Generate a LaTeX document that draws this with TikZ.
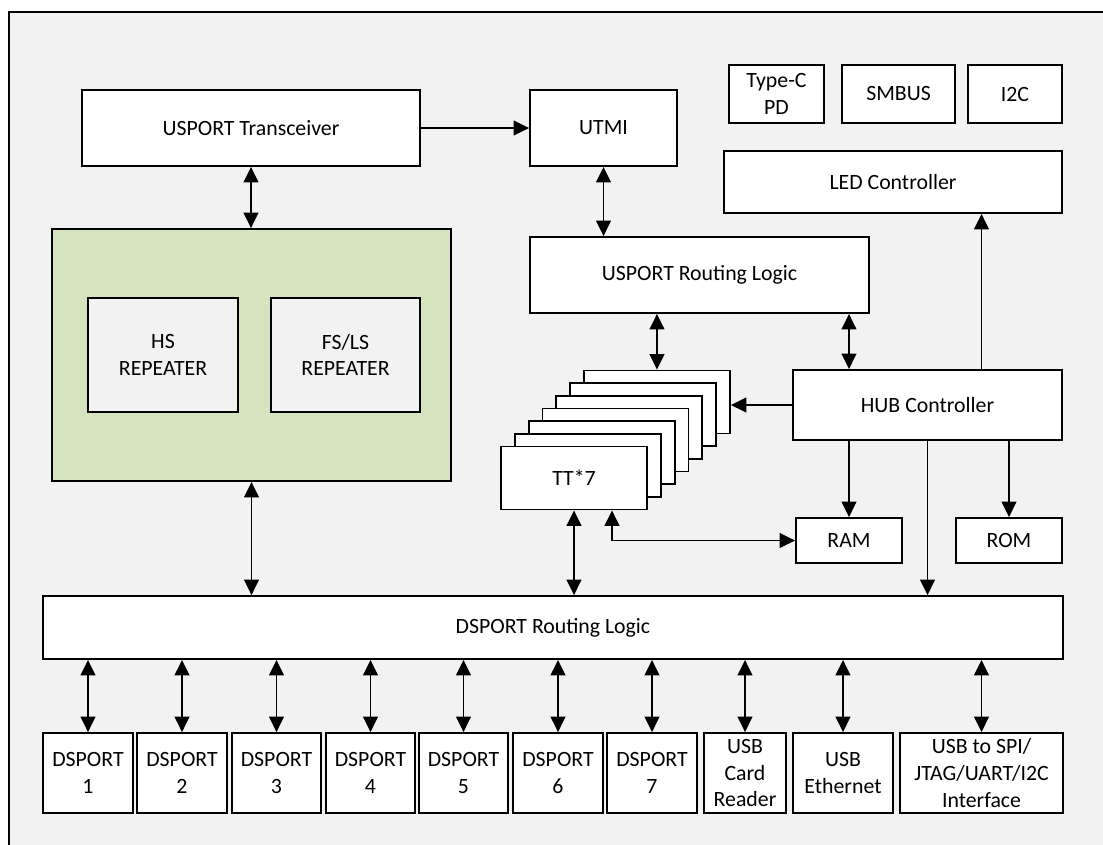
\documentclass[tikz,border=0pt]{standalone}
\usepackage{fontspec}
\setmainfont{Carlito}
\usetikzlibrary{arrows.meta,calc}
\definecolor{bggray}{RGB}{242,242,242}
\definecolor{rptgreen}{RGB}{214,227,191}
\tikzset{sz/.style 2 args={minimum width=#1*0.025cm,minimum height=#2*0.025cm}}
\begin{document}
\begin{tikzpicture}[x=0.025cm,y=-0.025cm]
\tikzstyle{every node}+=[inner sep=0pt]
\tikzstyle{blk}=[draw,fill=white,line width=1.3pt,align=center,font=\fontsize{15.5}{19}\selectfont]
\tikzstyle{arr}=[line width=1.3pt,-{Triangle[length=11pt,width=10.5pt]}]
\tikzstyle{darr}=[line width=1.3pt,{Triangle[length=11pt,width=10.5pt]}-{Triangle[length=11pt,width=10.5pt]}]
\useasboundingbox (0,0) rectangle (1103,844);
\clip (0,0) rectangle (1103,844);
\fill [white] (0,0) rectangle (1103,844);
\draw [fill=bggray,line width=1.2pt] (9,12) rectangle (1130,870);
\node[blk,sz={338}{76}] (tx) at (251,128) {USPORT Transceiver};
\node[blk,sz={147}{76}] (utmi) at (603.5,128) {UTMI};
\node[blk,sz={95}{58}] (typec) at (776.5,94) {Type-C\\PD};
\node[blk,sz={113}{58}] (smbus) at (898.5,94) {SMBUS};
\node[blk,sz={94}{58}] (iic) at (1015,94) {I2C};
\node[blk,sz={338}{62}] (led) at (893,182) {LED Controller};
\node[blk,sz={339}{76}] (usr) at (699.5,275) {USPORT Routing Logic};
\node[blk,fill=rptgreen,sz={399}{252}] (grn) at (251.5,355) {};
\node[blk,fill=bggray,sz={150}{114}] (hs) at (163,355) {HS\\REPEATER};
\node[blk,fill=bggray,sz={149}{114}] (fsls) at (345.5,355) {FS/LS\\REPEATER};
\foreach \i in {7,...,2}
  \node[blk,sz={146}{63}] (tt\i) at ({574+(\i-1)*13.83},{478-(\i-1)*12.67}) {};
\node[blk,sz={146}{63}] (tt1) at (574,478) {TT*7};
\node[blk,sz={269}{70}] (hub) at (927.5,405) {HUB Controller};
\node[blk,sz={106}{45}] (ram) at (849,540.5) {RAM};
\node[blk,sz={106}{45}] (rom) at (1009,540.5) {ROM};
\node[blk,sz={1020}{63}] (dsr) at (553,627.5) {DSPORT Routing Logic};
\foreach \i/\xc/\w in {1/88/90,2/182/90,3/276.5/89,4/370.5/89,5/463.5/89,6/558/90,7/652/90}
  \node[blk,sz={\w}{80}] (ds\i) at (\xc,773) {DSPORT\\\i};
\node[blk,sz={82}{80}] (card) at (745,773) {USB\\Card\\Reader};
\node[blk,sz={100}{80}] (eth) at (843,773) {USB\\Ethernet};
\node[blk,sz={163}{80}] (spi) at (981.5,773) {USB to SPI/\\JTAG/UART/I2C\\Interface};
\draw[arr] (tx) -- (utmi);
\draw[darr] (tx.south) -- (tx.south |- grn.north);
\draw[darr] (utmi.south) -- (utmi.south |- usr.north);
\draw[darr] (usr.south -| tt7) -- (tt7.north);
\draw[darr] (usr.south -| ram) -- (hub.north -| ram);
\draw[arr] (hub.north -| spi) -- (led.south -| spi);
\draw[arr] (hub.west) -- (hub.west -| tt7.east);
\draw[arr] (hub.south -| ram) -- (ram.north);
\draw[arr] (hub.south -| rom) -- (rom.north);
\draw[arr] (hub.south) -- (hub.south |- dsr.north);
\draw[darr] (tt1.south) -- (tt1.south |- dsr.north);
\draw[darr] ($(tt1.south)+(38,0)$) |- (ram.west);
\draw[darr] (grn.south) -- (grn.south |- dsr.north);
\foreach \n in {ds1,ds2,ds3,ds4,ds5,ds6,ds7,card,eth,spi}
  \draw[darr] (dsr.south -| \n) -- (\n.north);
\end{tikzpicture}
\end{document}
